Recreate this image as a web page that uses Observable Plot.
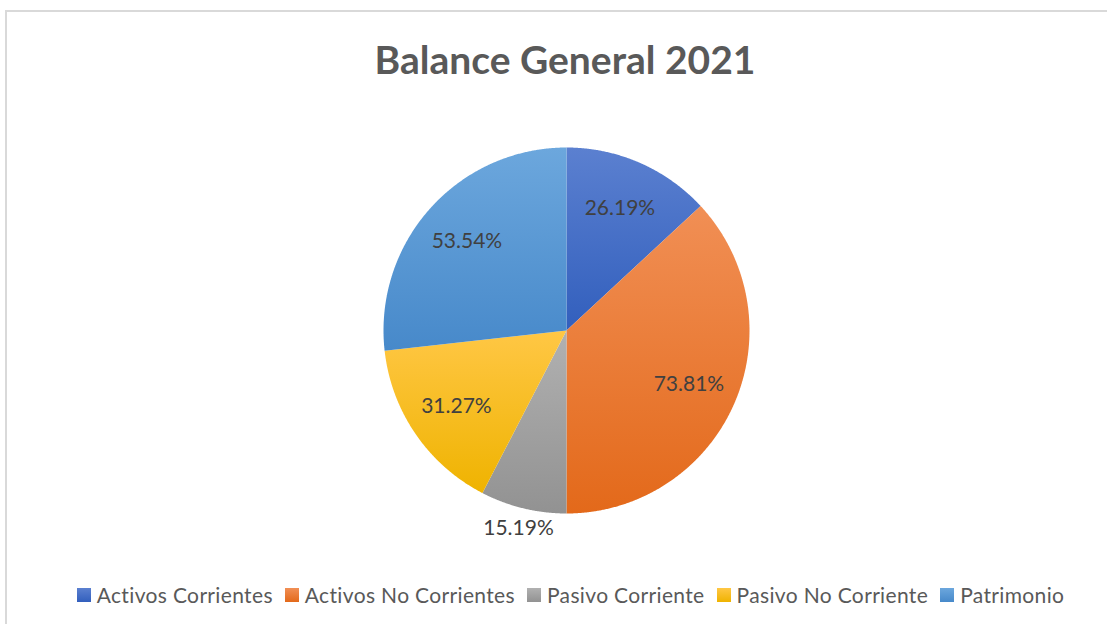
<!DOCTYPE html>
<html><head><meta charset="utf-8">
<script src="https://cdn.jsdelivr.net/npm/d3@7"></script>
<script src="https://cdn.jsdelivr.net/npm/@observablehq/plot@0.6"></script>
<style>
body{margin:0;background:#fff;font-family:Lato,"Open Sans",sans-serif;}
#wrap{position:relative;width:1107px;height:624px;overflow:hidden;background:#fff;}
#frame{position:absolute;left:5px;top:10px;width:1200px;height:700px;border:2px solid #d9d9d9;box-sizing:border-box;}
#title{position:absolute;left:0;width:1130px;top:36px;text-align:center;font-weight:bold;font-size:39px;line-height:46px;color:#595959;}
#chart{position:absolute;left:0;top:0;}
#legend{position:absolute;top:582px;left:0;width:1141px;display:flex;justify-content:center;align-items:center;font-size:21px;line-height:26px;letter-spacing:0.35px;color:#595959;white-space:nowrap;}
#legend .it{display:flex;align-items:center;margin:0 6px;}
#legend .sw{width:14px;height:14px;margin-right:6px;}
</style>
</head><body>
<div id="wrap">
  <div id="frame"></div>
  <div id="chart"></div>
  <div id="title">Balance General 2021</div>
  <div id="legend"></div>
</div>
<script>
const categories = ["Activos Corrientes", "Activos No Corrientes", "Pasivo Corriente", "Pasivo No Corriente", "Patrimonio"];
const values = [26.19, 73.81, 15.19, 31.27, 53.54];
const gradTop = ["#5b80d0", "#f18f55", "#b1b1b1", "#ffc745", "#6ca7dd"];
const gradBottom = ["#325fbd", "#e3691a", "#929292", "#efb300", "#4789ca"];

const arcs = d3.pie().sort(null).startAngle(0).endAngle(2 * Math.PI)(values);

// slice outlines on the unit circle (y up)
const slicePts = arcs.map((a, i) => {
  const pts = [{x: 0, y: 0}];
  const n = Math.max(2, Math.ceil((a.endAngle - a.startAngle) / 0.005));
  for (let k = 0; k <= n; k++) {
    const t = a.startAngle + (a.endAngle - a.startAngle) * k / n;
    pts.push({x: Math.sin(t), y: Math.cos(t)});
  }
  pts.push({x: 0, y: 0});
  return pts;
});

const labelData = arcs.map((a, i) => {
  const mid = (a.startAngle + a.endAngle) / 2;
  const outside = (a.endAngle - a.startAngle) < Math.PI / 6;
  const r = outside ? 1.11 : 0.73;
  return {x: r * Math.sin(mid), y: r * Math.cos(mid), text: values[i].toFixed(2) + "%"};
});

const chart = Plot.plot({
  width: 1107,
  height: 624,
  margin: 0,
  x: {domain: [-1, 1], range: [383, 749], axis: null},
  y: {domain: [-1, 1], range: [513, 147], axis: null},
  marks: [
    ...slicePts.map((pts, i) => Plot.line(pts, {x: "x", y: "y", fill: `url(#g${i})`, stroke: "none", curve: "linear"})),
    Plot.text(labelData, {x: "x", y: "y", text: "text", fontSize: 21, fill: "#404040", fontFamily: "Lato, 'Open Sans', sans-serif"})
  ]
});
chart.style.background = "transparent";
const defs = d3.select(chart).insert("defs", ":first-child");
categories.forEach((c, i) => {
  const g = defs.append("linearGradient").attr("id", "g" + i).attr("x1", 0).attr("y1", 0).attr("x2", 0).attr("y2", 1);
  g.append("stop").attr("offset", "0%").attr("stop-color", gradTop[i]);
  g.append("stop").attr("offset", "100%").attr("stop-color", gradBottom[i]);
});
document.getElementById("chart").appendChild(chart);

const legend = d3.select("#legend");
categories.forEach((c, i) => {
  const it = legend.append("div").attr("class", "it");
  it.append("div").attr("class", "sw").style("background", `linear-gradient(${gradTop[i]}, ${gradBottom[i]})`);
  it.append("span").text(c);
});
</script>
</body></html>
